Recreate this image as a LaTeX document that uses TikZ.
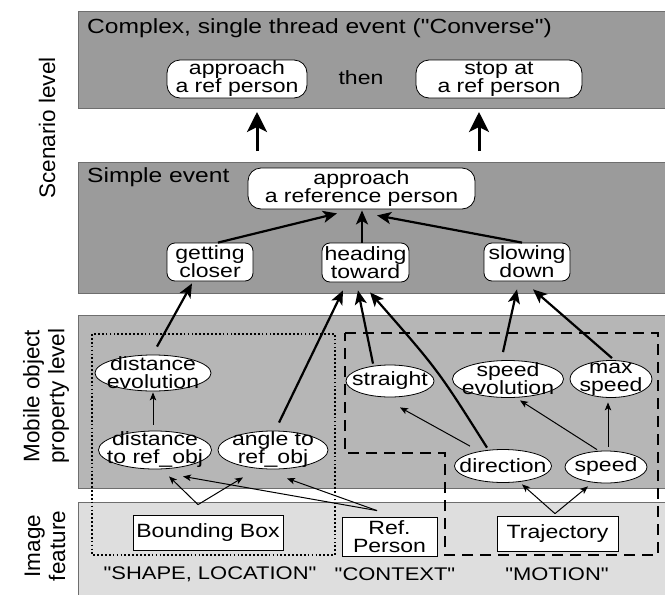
\documentclass[tikz,border=0pt]{standalone}
\usepackage{fontspec}
\setmainfont{Liberation Sans}[FakeStretch=1.2]
\newfontfamily\stretchfont{Liberation Sans}[FakeStretch=1.2]
\newfontfamily\sidefont{Liberation Sans}
\usetikzlibrary{arrows.meta,shapes.geometric,calc}
\definecolor{paneldark}{HTML}{9B9B9B}
\definecolor{panelmid}{HTML}{B6B6B6}
\definecolor{panellight}{HTML}{DEDEDE}
\definecolor{panelline}{HTML}{6E6E6E}
\newcommand{\nodefont}{\stretchfont\fontsize{19.2}{18}\selectfont}
\newcommand{\titlefont}{\stretchfont\fontsize{20.5}{22}\selectfont}
\newcommand{\catfont}{\stretchfont\fontsize{18.3}{20}\selectfont}
\newcommand{\sidelabelfont}{\sidefont\fontsize{22.5}{25}\selectfont}
\begin{document}
\begin{tikzpicture}[x=1pt,y=-1pt,
  panel/.style={draw=panelline, line width=0.8pt},
  rbox/.style={draw, fill=white, line width=0.8pt, rounded corners=#1, inner sep=0pt, align=center, font=\nodefont},
  ell/.style={ellipse, draw, fill=white, line width=0.8pt, inner xsep=-16pt, inner ysep=-13pt, align=center, font=\nodefont},
  fbox/.style={rectangle, draw, fill=white, line width=0.8pt, inner sep=0pt, align=center, font=\nodefont},
  sidelabel/.style={rotate=90, align=center, font=\sidelabelfont, inner sep=0pt},
  thick/.style={line width=2.2pt, -{Stealth[length=14pt,width=12pt,inset=3.5pt]}},
  thin/.style={line width=1pt, -{Stealth[length=8pt,width=6.5pt,inset=2pt]}},
  big/.style={line width=3pt, -{Stealth[length=20pt,width=20pt,inset=5pt]}},
  dotbox/.style={line width=1.7pt, dash pattern=on 1.7pt off 2.2pt},
  dashbox/.style={line width=2pt, dash pattern=on 11pt off 7pt}
]
\useasboundingbox (0,0) rectangle (665,595);
\fill[white] (0,0) rectangle (665,595);

% panels
\filldraw[panel, fill=paneldark] (78,11) rectangle (667,108);
\filldraw[panel, fill=paneldark] (78,162) rectangle (667,293);
\filldraw[panel, fill=panelmid] (78,315) rectangle (667,488);
\filldraw[panel, fill=panellight] (78,502) rectangle (667,597);

% side labels
\node[sidelabel] (lscen) at (47,128) {Scenario level};
\node[sidelabel] (lmob) at (46,396) {Mobile object\\property level};
\node[sidelabel] (limg) at (45,546) {Image\\feature};

% region boxes
\draw[dotbox] (92,334) rectangle (335,555);
\draw[dashbox] (345,333) -- (658,333) -- (658,555) -- (445,555) -- (445,453) -- (345,453) -- cycle;

% scenario (complex) level
\node[font=\titlefont, anchor=west, inner sep=0pt] (ttop) at (87,28) {Complex, single thread event ("Converse")};
\node[rbox=13pt, minimum width=140pt, minimum height=38pt] (ar) at (237,79) {approach\\a ref person};
\node[font=\nodefont, inner sep=0pt] (then) at (361,78) {then};
\node[rbox=13pt, minimum width=166pt, minimum height=38pt] (st) at (499,79) {stop at\\a ref person};

% simple event
\node[font=\titlefont, anchor=west, inner sep=0pt] (tsim) at (87,177) {Simple event};
\node[rbox=13pt, minimum width=227pt, minimum height=41pt] (app) at (361.5,188.5) {approach\\a reference person};
\node[rbox=8pt, minimum width=86pt, minimum height=38pt] (gc) at (210,262) {getting\\closer};
\node[rbox=8pt, minimum width=87pt, minimum height=39pt] (ht) at (365.5,262.5) {heading\\toward};
\node[rbox=8pt, minimum width=86pt, minimum height=38pt] (sd) at (527,262) {slowing\\down};

% mobile object property level
\node[ell, minimum width=116pt, minimum height=36pt] (distev) at (153,373) {distance\\evolution};
\node[ell, minimum width=113pt, minimum height=38pt] (distref) at (155,450) {distance\\to ref\_obj};
\node[ell, minimum width=110pt, minimum height=38pt] (angle) at (273,450) {angle to\\ref\_obj};
\node[ell, minimum width=88pt, minimum height=32pt] (straight) at (390,381) {straight};
\node[ell, minimum width=111pt, minimum height=37pt] (speedev) at (508,379) {speed\\evolution};
\node[ell, minimum width=82pt, minimum height=37pt] (maxsp) at (611,379) {max\\speed};
\node[ell, minimum width=97pt, minimum height=33pt] (dir) at (503,466) {direction};
\node[ell, minimum width=82pt, minimum height=32pt] (speed) at (606,467) {speed};

% image features
\node[fbox, minimum width=150pt, minimum height=35pt] (bb) at (208,532.5) {Bounding Box};
\node[fbox, minimum width=95pt, minimum height=39pt] (ref) at (389.5,536.5) {Ref.\\Person};
\node[fbox, minimum width=121pt, minimum height=35pt] (traj) at (557.5,533.5) {Trajectory};
\node[font=\catfont, inner sep=0pt] (cshape) at (210,574) {"SHAPE, LOCATION"};
\node[font=\catfont, inner sep=0pt] (cctx) at (395,574) {"CONTEXT"};
\node[font=\catfont, inner sep=0pt] (cmot) at (557,574) {"MOTION"};

% big arrows between scenario panels
\coordinate (b1s) at (257,151);
\coordinate (b1e) at (257,112);
\coordinate (b2s) at (479,151);
\coordinate (b2e) at (479,112);
\draw[big] (b1s) -- (b1e);
\draw[big] (b2s) -- (b2e);

% simple event arrows
\draw[thick] ($(gc.north)+(8,0)$) -- ($(app.south)+(-24.5,4)$);
\draw[thick] ($(ht.north)+(-3.5,0)$) -- ($(app.south)+(0.5,1)$);
\draw[thick] ($(sd.north)+(-5,0)$) -- ($(app.south)+(15.5,6)$);

% mobile -> simple
\draw[thick] ($(distev.north)+(4,-8)$) -- ($(gc.south)+(-18,2)$);
\draw[thick] ($(angle.north)+(6,-8)$) -- ($(ht.south)+(-22.5,8)$);
\draw[thick] ($(straight.north)+(-17,-1)$) -- ($(ht.south)+(-7.5,8)$);
\draw[thick] ($(dir.north)+(-16,-1.5)$) .. controls (438,370) .. ($(ht.south)+(4.5,10)$);
\draw[thick] ($(speedev.north)+(-5,-8)$) -- ($(sd.south)+(-10,8)$);
\draw[thick] ($(maxsp.north)+(1,-2)$) -- ($(sd.south)+(6,8)$);

% thin arrows inside mobile level
\draw[thin] ($(distref.north)+(-2,-6)$) -- ($(distev.south)+(0,1)$);
\draw[thin] ($(dir.north)+(-33,-3)$) -- ($(straight.south)+(10,10)$);
\draw[thin] ($(speed.north)+(-9,-1)$) -- ($(speedev.south)+(12,2.5)$);
\draw[thin] ($(speed.north)+(2,-4)$) -- ($(maxsp.south)+(-3,4.5)$);

% image feature -> mobile
\draw[thin] ($(bb.north)+(-10,-10)$) -- ($(distref.south)+(14,7)$);
\draw[thin] ($(bb.north)+(-10,-10)$) -- ($(angle.south)+(-30,8)$);
\draw[thin] ($(ref.north)+(-12.5,-6)$) -- ($(distref.south)+(28,7)$);
\draw[thin] ($(ref.north)+(-12.5,-6)$) -- ($(angle.south)+(14,9)$);
\draw[thin] ($(traj.north)+(-2.5,-2)$) -- ($(dir.south)+(19,1.5)$);
\draw[thin] ($(traj.north)+(-2.5,-2)$) -- ($(speed.south)+(-18,3)$);
\end{tikzpicture}
\end{document}
